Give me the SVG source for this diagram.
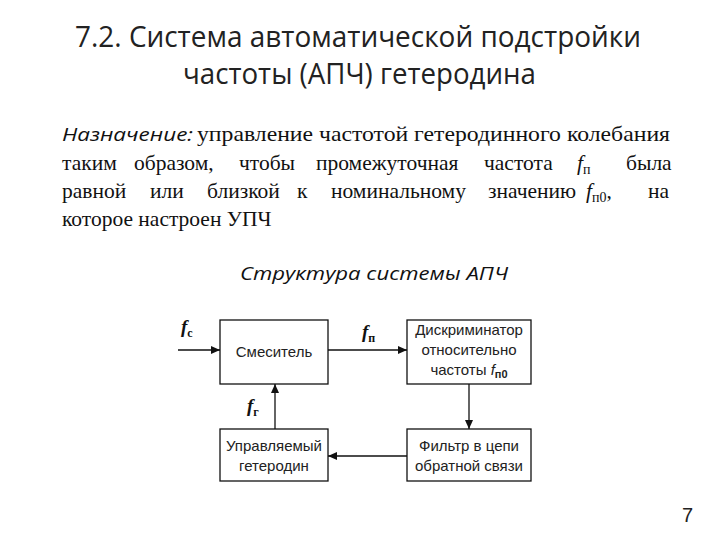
<svg xmlns="http://www.w3.org/2000/svg" width="720" height="540" viewBox="0 0 720 540">
<defs>
<style>
.title{font-family:"Open Sans","Liberation Sans",sans-serif;font-size:29px;fill:#222}
.para{font-family:"Liberation Serif","Times New Roman",serif;font-size:21.5px;fill:#111}
.it{font-family:"Open Sans","Liberation Sans",sans-serif;font-style:italic;font-size:18.5px;fill:#111}
.sub{font-size:14px}
.box{fill:#fff;stroke:#111;stroke-width:1.3}
.lbl{font-family:"Liberation Sans",Arial,sans-serif;font-size:15px;fill:#222;text-anchor:middle}
.var{font-family:"Liberation Serif","Times New Roman",serif;font-style:italic;font-weight:bold;font-size:19px;fill:#111}
.vsub{font-family:"Liberation Serif","Times New Roman",serif;font-style:normal;font-size:12px;font-weight:bold}
.line{stroke:#111;stroke-width:1.3;fill:none}
</style>
<marker id="ah" markerWidth="10" markerHeight="8" refX="9" refY="4" orient="auto" markerUnits="userSpaceOnUse">
<path d="M0,0 L9,4 L0,8 Z" fill="#111"/>
</marker>
</defs>
<rect width="720" height="540" fill="#fff"/>
<g id="title">
<text class="title" x="75" y="47" textLength="566" lengthAdjust="spacingAndGlyphs">7.2. Система автоматической подстройки</text>
<text class="title" x="183" y="84" textLength="353" lengthAdjust="spacingAndGlyphs">частоты (АПЧ) гетеродина</text>
</g>
<g id="paragraph">
<text class="it" x="62" y="141" textLength="131" lengthAdjust="spacingAndGlyphs">Назначение:</text>
<text class="para" x="197" y="141" textLength="473" lengthAdjust="spacingAndGlyphs">управление частотой гетеродинного колебания</text>
<text class="para" y="170"><tspan x="62">таким</tspan><tspan x="134">образом,</tspan><tspan x="239">чтобы</tspan><tspan x="316">промежуточная</tspan><tspan x="484">частота</tspan><tspan x="577" font-style="italic">f</tspan><tspan class="sub" dy="4">п</tspan><tspan x="626" dy="-4">была</tspan></text>
<text class="para" y="198"><tspan x="62">равной</tspan><tspan x="150">или</tspan><tspan x="207">близкой</tspan><tspan x="297">к</tspan><tspan x="331">номинальному</tspan><tspan x="488">значению</tspan><tspan x="586" font-style="italic">f</tspan><tspan class="sub" dy="4">п0</tspan><tspan dy="-4">,</tspan><tspan x="648">на</tspan></text>
<text class="para" x="62" y="226">которое настроен УПЧ</text>
</g>
<text id="subtitle" class="it" x="240" y="280" textLength="268" lengthAdjust="spacingAndGlyphs">Структура системы АПЧ</text>
<g id="mixer">
<rect class="box" x="220" y="320" width="108" height="64"/>
<text class="lbl" x="274" y="357">Смеситель</text>
</g>
<g id="discriminator">
<rect class="box" x="407" y="320" width="124" height="64"/>
<text class="lbl" x="469" y="335">Дискриминатор</text>
<text class="lbl" x="469" y="355">относительно</text>
<text class="lbl" x="469" y="375">частоты <tspan font-style="italic">f</tspan><tspan font-size="11" font-weight="bold" dy="3">п0</tspan></text>
</g>
<g id="oscillator">
<rect class="box" x="220" y="429" width="108" height="52"/>
<text class="lbl" x="274" y="451">Управляемый</text>
<text class="lbl" x="274" y="471">гетеродин</text>
</g>
<g id="filter">
<rect class="box" x="407" y="429" width="124" height="52"/>
<text class="lbl" x="469" y="451">Фильтр в цепи</text>
<text class="lbl" x="469" y="471">обратной связи</text>
</g>
<g id="connectors">
<line class="line" x1="178" y1="350" x2="220" y2="350" marker-end="url(#ah)"/>
<line class="line" x1="328" y1="350" x2="407" y2="350" marker-end="url(#ah)"/>
<line class="line" x1="469" y1="384" x2="469" y2="429" marker-end="url(#ah)"/>
<line class="line" x1="407" y1="456" x2="328" y2="456" marker-end="url(#ah)"/>
<line class="line" x1="275" y1="429" x2="275" y2="384" marker-end="url(#ah)"/>
</g>
<g id="labels">
<text class="var" x="181" y="333">f<tspan class="vsub" dy="4">с</tspan></text>
<text class="var" x="362" y="338">f<tspan class="vsub" dy="4">п</tspan></text>
<text class="var" x="247" y="412">f<tspan class="vsub" dy="4">г</tspan></text>
</g>
<text id="page" x="682" y="522" font-family="Liberation Sans,Arial,sans-serif" font-size="20" fill="#222">7</text>
</svg>
